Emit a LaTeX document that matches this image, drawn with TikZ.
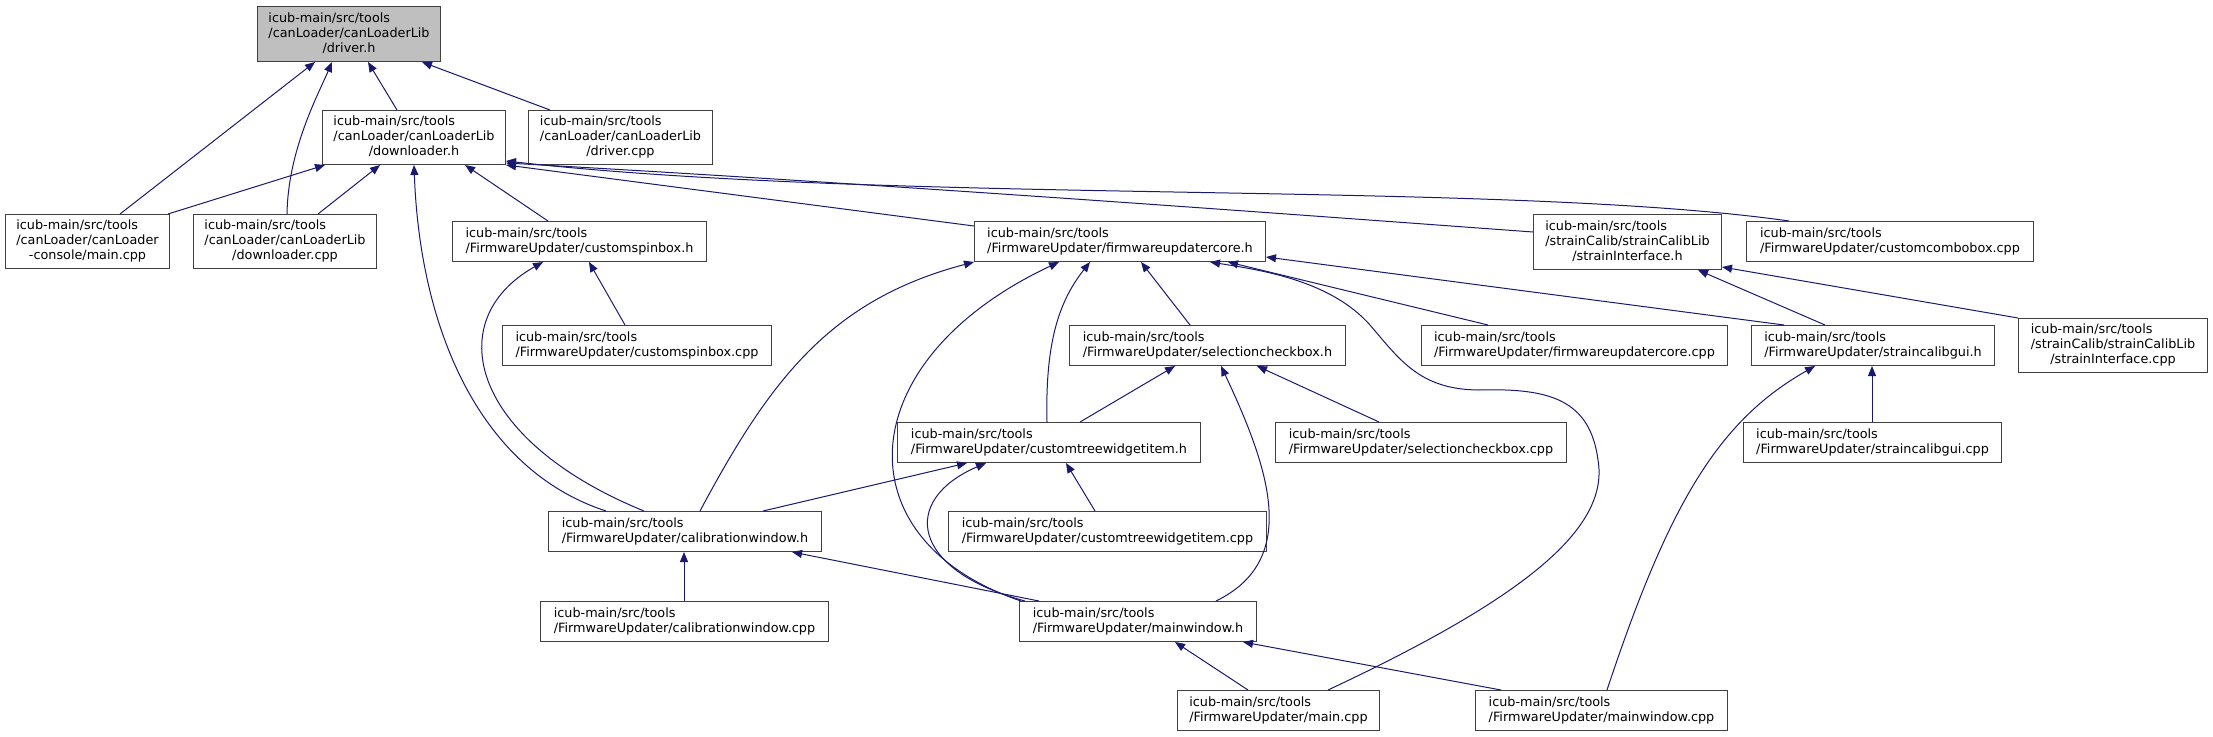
\documentclass[tikz,border=0pt]{standalone}
\usepackage{fontspec}
\setmainfont{DejaVu Sans}
\usetikzlibrary{arrows.meta}
\definecolor{mblue}{HTML}{191970}
\definecolor{grey25}{HTML}{404040}
\definecolor{nodegray}{HTML}{BFBFBF}
\newcommand{\lblthree}[3]{\begin{tabular}{@{}l@{}}#1\\#2\\\multicolumn{1}{@{}c@{}}{#3}\end{tabular}}
\newcommand{\lbltwo}[2]{\begin{tabular}{@{}l@{}}#1\\\multicolumn{1}{@{}c@{}}{#2}\end{tabular}}
\begin{document}
\begin{tikzpicture}[x=1pt,y=-1pt,
  filebox/.style={draw=grey25, line width=1pt, fill=white, rectangle, inner sep=0pt, anchor=north west,
     font=\fontsize{12.8}{15}\selectfont},
  dep/.style={draw=mblue, line width=1pt, {Triangle[length=10pt,width=8pt]}-}]
\useasboundingbox (0,0) rectangle (2213,736);
% nodes
\node[filebox, fill=nodegray, minimum width=183pt, minimum height=55pt] (drvh) at (257,6) {\lblthree{icub-main/src/tools}{/canLoader/canLoaderLib}{/driver.h}};
\node[filebox, minimum width=183pt, minimum height=54pt] (dlh) at (322,110) {\lblthree{icub-main/src/tools}{/canLoader/canLoaderLib}{/downloader.h}};
\node[filebox, minimum width=184pt, minimum height=54pt] (drvcpp) at (528,110) {\lblthree{icub-main/src/tools}{/canLoader/canLoaderLib}{/driver.cpp}};
\node[filebox, minimum width=164pt, minimum height=54pt] (conmain) at (5,214) {\lblthree{icub-main/src/tools}{/canLoader/canLoader}{-console/main.cpp}};
\node[filebox, minimum width=183pt, minimum height=54pt] (dlcpp) at (193,214) {\lblthree{icub-main/src/tools}{/canLoader/canLoaderLib}{/downloader.cpp}};
\node[filebox, minimum width=254pt, minimum height=40pt] (csbh) at (452,221) {\lbltwo{icub-main/src/tools}{/FirmwareUpdater/customspinbox.h}};
\node[filebox, minimum width=291pt, minimum height=40pt] (fuch) at (974,221) {\lbltwo{icub-main/src/tools}{/FirmwareUpdater/firmwareupdatercore.h}};
\node[filebox, minimum width=188pt, minimum height=55pt] (sih) at (1533,214) {\lblthree{icub-main/src/tools}{/strainCalib/strainCalibLib}{/strainInterface.h}};
\node[filebox, minimum width=287pt, minimum height=40pt] (ccbcpp) at (1746,221) {\lbltwo{icub-main/src/tools}{/FirmwareUpdater/customcombobox.cpp}};
\node[filebox, minimum width=269pt, minimum height=40pt] (csbcpp) at (502,325) {\lbltwo{icub-main/src/tools}{/FirmwareUpdater/customspinbox.cpp}};
\node[filebox, minimum width=276pt, minimum height=40pt] (schh) at (1069,325) {\lbltwo{icub-main/src/tools}{/FirmwareUpdater/selectioncheckbox.h}};
\node[filebox, minimum width=306pt, minimum height=40pt] (fuccpp) at (1421,325) {\lbltwo{icub-main/src/tools}{/FirmwareUpdater/firmwareupdatercore.cpp}};
\node[filebox, minimum width=243pt, minimum height=40pt] (scgh) at (1751,325) {\lbltwo{icub-main/src/tools}{/FirmwareUpdater/straincalibgui.h}};
\node[filebox, minimum width=189pt, minimum height=54pt] (sicpp) at (2018,318) {\lblthree{icub-main/src/tools}{/strainCalib/strainCalibLib}{/strainInterface.cpp}};
\node[filebox, minimum width=303pt, minimum height=40pt] (ctwh) at (897,422) {\lbltwo{icub-main/src/tools}{/FirmwareUpdater/customtreewidgetitem.h}};
\node[filebox, minimum width=291pt, minimum height=40pt] (schcpp) at (1275,422) {\lbltwo{icub-main/src/tools}{/FirmwareUpdater/selectioncheckbox.cpp}};
\node[filebox, minimum width=258pt, minimum height=40pt] (scgcpp) at (1743,422) {\lbltwo{icub-main/src/tools}{/FirmwareUpdater/straincalibgui.cpp}};
\node[filebox, minimum width=273pt, minimum height=40pt] (cwh) at (548,511) {\lbltwo{icub-main/src/tools}{/FirmwareUpdater/calibrationwindow.h}};
\node[filebox, minimum width=318pt, minimum height=40pt] (ctwcpp) at (948,511) {\lbltwo{icub-main/src/tools}{/FirmwareUpdater/customtreewidgetitem.cpp}};
\node[filebox, minimum width=288pt, minimum height=40pt] (cwcpp) at (540,601) {\lbltwo{icub-main/src/tools}{/FirmwareUpdater/calibrationwindow.cpp}};
\node[filebox, minimum width=237pt, minimum height=40pt] (mwh) at (1019,601) {\lbltwo{icub-main/src/tools}{/FirmwareUpdater/mainwindow.h}};
\node[filebox, minimum width=202pt, minimum height=40pt] (maincpp) at (1177,690) {\lbltwo{icub-main/src/tools}{/FirmwareUpdater/main.cpp}};
\node[filebox, minimum width=252pt, minimum height=40pt] (mwcpp) at (1475,690) {\lbltwo{icub-main/src/tools}{/FirmwareUpdater/mainwindow.cpp}};
% edges (arrow at included file)
\draw[dep] ([xshift=58pt]drvh.south west) -- ([xshift=115pt]conmain.north west);
\draw[dep] ([xshift=75pt]drvh.south west) .. controls (318,95) and (288,150) .. ([xshift=94pt]dlcpp.north west);
\draw[dep] ([xshift=111pt]drvh.south west) -- ([xshift=75pt]dlh.north west);
\draw[dep] ([xshift=165pt]drvh.south west) -- ([xshift=22pt]drvcpp.north west);
\draw[dep] ([xshift=3pt]dlh.south west) -- ([xshift=-2pt]conmain.north east);
\draw[dep] ([xshift=58pt]dlh.south west) -- ([xshift=125pt]dlcpp.north west);
\draw[dep] ([xshift=92pt]dlh.south west) .. controls (420,330) and (480,470) .. ([xshift=58pt]cwh.north west);
\draw[dep] ([xshift=143pt]dlh.south west) -- ([xshift=96pt]csbh.north west);
\draw[dep] (dlh.south east) -- ([yshift=-5pt]fuch.north west);
\draw[dep] ([yshift=2pt]dlh.south east) .. controls (900,185) and (1300,215) .. ([yshift=-18pt]sih.north west);
\draw[dep] ([yshift=4pt]dlh.south east) .. controls (900,205) and (1500,180) .. ([xshift=43pt]ccbcpp.north west);
\draw[dep] ([xshift=137pt]csbh.south west) -- ([xshift=123pt]csbcpp.north west);
\draw[dep] ([xshift=91pt]csbh.south west) .. controls (440,320) and (470,440) .. ([xshift=96pt]cwh.north west);
\draw[dep] (fuch.south west) .. controls (830,300) and (770,380) .. ([xshift=152pt]cwh.north west);
\draw[dep] ([xshift=85pt]fuch.south west) .. controls (850,360) and (840,540) .. ([xshift=2pt]mwh.north west);
\draw[dep] ([xshift=116pt]fuch.south west) .. controls (1060,300) and (1045,340) .. ([xshift=150pt]ctwh.north west);
\draw[dep] ([xshift=167pt]fuch.south west) -- ([xshift=121pt]schh.north west);
\draw[dep] ([xshift=254pt]fuch.south west) -- ([xshift=67pt]fuccpp.north west);
\draw[dep] ([xshift=236pt]fuch.south west) .. controls (1260,270) and (1330,280) .. (1370,325)
   .. controls (1400,360) and (1420,390) .. (1480,390)
   .. controls (1550,388) and (1590,400) .. (1598,460)
   .. controls (1610,530) and (1520,600) .. ([xshift=151pt]maincpp.north west);
\draw[dep] ([yshift=5pt]fuch.south east) -- ([xshift=33pt]scgh.north west);
\draw[dep] ([xshift=106pt]schh.south west) -- ([xshift=183pt]ctwh.north west);
\draw[dep] ([xshift=188pt]schh.south west) -- ([xshift=104pt]schcpp.north west);
\draw[dep] ([xshift=152pt]schh.south west) .. controls (1270,470) and (1300,560) .. ([xshift=197pt]mwh.north west);
\draw[dep] ([xshift=70pt]ctwh.south west) -- ([xshift=215pt]cwh.north west);
\draw[dep] ([xshift=169pt]ctwh.south west) -- ([xshift=147pt]ctwcpp.north west);
\draw[dep] ([xshift=89pt]ctwh.south west) .. controls (900,500) and (910,570) .. ([xshift=6pt]mwh.north west);
\draw[dep] ([xshift=136pt]cwh.south west) -- ([xshift=144pt]cwcpp.north west);
\draw[dep] ([xshift=244pt]cwh.south west) -- ([xshift=20pt]mwh.north west);
\draw[dep] ([xshift=156pt]mwh.south west) -- ([xshift=71pt]maincpp.north west);
\draw[dep] ([xshift=224pt]mwh.south west) -- ([xshift=26pt]mwcpp.north west);
\draw[dep] ([xshift=64pt]scgh.south west) .. controls (1720,420) and (1670,500) .. ([xshift=132pt]mwcpp.north west);
\draw[dep] ([xshift=121pt]scgh.south west) -- ([xshift=129pt]scgcpp.north west);
\draw[dep] ([xshift=165pt]sih.south west) -- ([xshift=74pt]scgh.north west);
\draw[dep] ([yshift=3pt]sih.south east) -- (sicpp.north west);
\end{tikzpicture}
\end{document}
